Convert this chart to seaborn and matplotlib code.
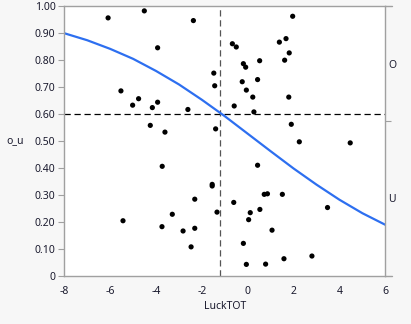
import matplotlib
matplotlib.use("Agg")
import matplotlib.pyplot as plt
import seaborn as sns
import pandas as pd

# ---- data ----
luck_x = [-6.09, -4.51, -2.37, -3.93, -1.48, -1.44, -0.67, -0.50, -0.19, -0.09,
          0.52, -0.24, 0.43, -0.06, 0.22, -0.59, 0.27, -2.61, -4.16, -3.93,
          -4.76, -5.02, -5.53, -4.25, -3.61, -1.40, -3.73, -1.55, -1.55, 0.43,
          -2.31, -0.61, 0.72, 0.86, 0.53, 1.90, 2.25, 4.47, 1.51, 3.48,
          1.96, 1.67, 1.38, 1.81, 1.61, 1.79, -5.44, -3.29, -1.34, 0.11,
          -3.74, -2.82, -2.31, 0.04, -2.47, -0.19, -0.06, 0.78, 1.06, 1.58,
          2.80]
ou_y = [0.957, 0.983, 0.947, 0.846, 0.752, 0.705, 0.861, 0.849, 0.787, 0.774,
        0.798, 0.720, 0.728, 0.689, 0.663, 0.630, 0.608, 0.617, 0.624, 0.644,
        0.657, 0.633, 0.686, 0.558, 0.533, 0.545, 0.406, 0.339, 0.333, 0.410,
        0.284, 0.272, 0.302, 0.304, 0.246, 0.562, 0.497, 0.493, 0.302, 0.253,
        0.963, 0.880, 0.867, 0.827, 0.800, 0.663, 0.204, 0.228, 0.236, 0.234,
        0.182, 0.166, 0.176, 0.208, 0.107, 0.120, 0.042, 0.043, 0.169, 0.063,
        0.073]

curve_x = [-8, -7, -6, -5, -4, -3, -2, -1, 0, 1, 2, 3, 4, 5, 6]
curve_p = [0.900, 0.874, 0.842, 0.805, 0.760, 0.710, 0.653, 0.592, 0.527,
           0.462, 0.398, 0.338, 0.282, 0.232, 0.189]

ref_x = -1.20
ref_y = 0.60

x_ticks = [-8, -6, -4, -2, 0, 2, 4, 6]
y_ticks = [0, 0.1, 0.2, 0.3, 0.4, 0.5, 0.6, 0.7, 0.8, 0.9, 1.0]
y_tick_labels = ["0", "0.10", "0.20", "0.30", "0.40", "0.50", "0.60", "0.70", "0.80", "0.90", "1.00"]

level_names = ["U", "O"]
level_pos = [0.287, 0.787]
level_split = 0.573

x_label = "LuckTOT"
y_label = "o_u"

# ---- styling ----
sns.set_style("white")
plt.rcParams["font.family"] = ["Noto Sans", "DejaVu Sans"]
text_col = "#1a1a2e"
axis_col = "#a0a0a0"

fig = plt.figure(figsize=(4.11, 3.24), dpi=100, facecolor="#f7f7f7")
ax = fig.add_axes([64.3 / 411, (324 - 275.7) / 324, (385.3 - 64.3) / 411, (275.7 - 6.3) / 324])
ax.set_facecolor("white")

pts = pd.DataFrame({"LuckTOT": luck_x, "o_u": ou_y})
cur = pd.DataFrame({"LuckTOT": curve_x, "p": curve_p})

ax.axhline(ref_y, color="black", lw=0.9, ls=(0, (5, 3)), zorder=1)
ax.axvline(ref_x, color="#555555", lw=0.9, ls=(0, (5, 3)), zorder=1)

sns.lineplot(data=cur, x="LuckTOT", y="p", ax=ax, color="#2d6ff0", lw=1.6, zorder=2)
sns.scatterplot(data=pts, x="LuckTOT", y="o_u", ax=ax, color="black", s=14,
                edgecolor="none", zorder=3)

ax.set_xlim(-8, 6)
ax.set_ylim(0, 1)
ax.set_xticks(x_ticks)
ax.set_xticklabels([str(v) for v in x_ticks])
ax.set_yticks(y_ticks)
ax.set_yticklabels(y_tick_labels)

for s in ax.spines.values():
    s.set_color(axis_col)
    s.set_linewidth(1.0)

ax.tick_params(axis="both", direction="out", length=4.3, width=0.8, color=axis_col,
               labelsize=7.5, labelcolor=text_col)
ax.tick_params(axis="y", pad=2)
ax.tick_params(axis="x", pad=3)

ax.set_xlabel(x_label, fontsize=7.5, color=text_col, labelpad=3)
ax.set_ylabel(y_label, fontsize=7.5, color=text_col, rotation=0, ha="center", va="center")
ax.yaxis.set_label_coords(-0.153, 0.5)

tw = ax.twinx()
tw.set_ylim(0, 1)
tw.set_yticks(level_pos)
tw.set_yticklabels(level_names)
tw.set_yticks([level_split], minor=True)
tw.tick_params(axis="y", which="major", length=0, pad=2, labelsize=7.5, labelcolor=text_col)
tw.tick_params(axis="y", which="minor", length=4.3, width=0.8, color=axis_col, direction="out")
for s in tw.spines.values():
    s.set_visible(False)

# small overhang of top and bottom frame lines to the right, as in the reference
x0 = 385.3 / 411
x1 = 392 / 411
for yy in [(324 - 6.3) / 324, (324 - 275.7) / 324]:
    fig.add_artist(plt.Line2D([x0, x1], [yy, yy], color=axis_col, lw=1.0,
                              transform=fig.transFigure))

fig.savefig("out.png", dpi=100, facecolor=fig.get_facecolor())
